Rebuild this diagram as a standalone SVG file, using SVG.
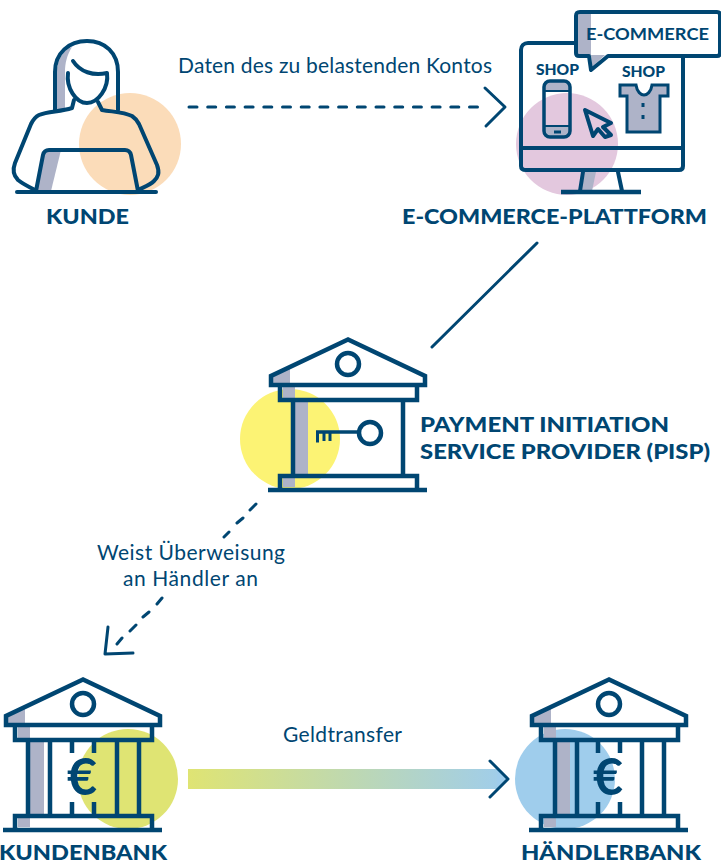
<svg xmlns="http://www.w3.org/2000/svg" width="721" height="868" viewBox="0 0 721 868">
<style>
.s{fill:none;stroke:#004672;stroke-width:4;stroke-linejoin:round;stroke-linecap:round}
.m{fill:none;stroke:#004672;stroke-width:4.500;stroke-linejoin:miter;stroke-linecap:butt}
.g{fill:#aeb3c8;stroke:none}
.w{fill:#fff;stroke:none}
.t{font-family:Lato,"Noto Sans",sans-serif;font-size:21px;fill:#004672}
.b{font-family:Lato,"Noto Sans",sans-serif;font-size:20px;font-weight:900;fill:#004672}
.c{font-family:Lato,"Noto Sans",sans-serif;font-size:15px;font-weight:900;fill:#004672}
.d{fill:none;stroke:#004672;stroke-width:3;stroke-linecap:round;stroke-linejoin:round}
.e{font-family:Lato,"Noto Sans",sans-serif;font-size:52px;font-weight:700;fill:#004672;text-anchor:middle}
</style>
<defs>
<linearGradient id="flow" x1="188" y1="0" x2="506" y2="0" gradientUnits="userSpaceOnUse"><stop offset="0" stop-color="#dfe473"/><stop offset="1" stop-color="#9fcdec"/></linearGradient>
<g id="bankTop">
<path class="g" d="M8 46L25 38V54H8Z"/>
<path class="g" d="M18 57H30V69H18Z"/>
<path class="g" d="M18 148H30V157H18Z"/>
<path class="m" d="M83 9.500L6 46V55H160V46Z"/>
<circle class="m" cx="83" cy="34" r="11"/>
<path class="m" d="M15 55V70H152V55"/>
<path class="m" d="M15 158V146H152V158"/>
<path class="m" d="M3 160H162"/>
</g>
</defs>

<g id="connectors">
<path class="d" stroke-dasharray="8 10.700" d="M189 107H482"/>
<path class="d" d="M485 88L505 107L486 126"/>
<path class="d" d="M537 243L432 347"/>
<path class="d" d="M256 504L250 510M243 518L237 523M229 532L224 537M162 598L157 604M149 612L143 617M136 625L130 631M122 638L117 644"/>
<path class="d" d="M108 627L105 654L133 653"/>
<path d="M188 769H497V789H188Z" fill="url(#flow)"/>
<path d="M489 760L508 779L489 798L497 789V769Z" fill="#9fcdec"/>
<path class="d" d="M490 761L508 779L490 797"/>
</g>

<g id="label-daten"><text class="t" x="178" y="73" textLength="314">Daten des zu belastenden Kontos</text></g>
<g id="label-weist"><text class="t" x="97" y="560" textLength="188">Weist Überweisung</text><text class="t" x="123" y="586" textLength="135">an Händler an</text></g>
<g id="label-geld"><text class="t" x="283" y="742" textLength="119">Geldtransfer</text></g>

<g id="kunde">
<circle cx="130" cy="144" r="51" fill="#fbdcb9"/>
<path class="g" d="M57 110V72C57 60 63 50 72 47C67 55 65 63 65 72V110Z"/>
<path class="g" d="M37 191L44 153L47 150H61L51 191Z"/>
<path class="s" d="M55 110V72C55 53 69 41 87 41C105 41 118 53 118 72V110"/>
<path class="s" d="M68 73C66 88 76 103 87 103C98 103 109 88 107 73C93 76 80 72 73 61"/>
<path class="s" d="M74 100L72 108C60 112 48 111 39 115C35 117 33 120 31 124L15 163C12 171 14 176 18 180C23 184 29 187 35 190"/>
<path class="s" d="M98 102L102 110C114 112 124 112 132 116C135 118 137 120 139 124L157 165C160 173 158 177 154 181C150 185 144 187 138 190"/>
<path class="s" d="M36 191L43 155C44 151 46 150 49 150H125C128 150 130 151 131 155L138 191"/>
<path class="s" d="M17 192H156"/>
<text class="b" x="46" y="224" textLength="83" lengthAdjust="spacingAndGlyphs">KUNDE</text>
</g>

<g id="plattform">
<circle cx="567" cy="144" r="51" fill="#e3c8de"/>
<path class="g" d="M585 172H596L592 191H581Z"/>
<path class="s" d="M576 43H528C524 43 521 46 521 50V166C521 169 523 170 526 170H679C682 170 683 168 683 166V56"/>
<path class="s" d="M521 148H683"/>
<path class="s" d="M583 172L580 191M618 172L622 191"/>
<path class="m" d="M561 192H641"/>
<path class="w" d="M578 13H719V55H608L591 69V55H578Z"/>
<path class="g" d="M578 14H591V55H578Z"/>
<path class="g" d="M591 55H605L592 67Z"/>
<path class="s" d="M580 12H717C719 12 720 13 720 15V53C720 55 719 56 717 56H608L591 70L589 56H579C577 56 576 55 576 53V16C576 13 577 12 580 12Z"/>
<text class="c" x="586" y="40" textLength="123" lengthAdjust="spacingAndGlyphs" style="font-size:17.500px;font-weight:700">E-COMMERCE</text>
<text class="c" x="536" y="75" textLength="43" lengthAdjust="spacingAndGlyphs">SHOP</text>
<text class="c" x="622" y="77" textLength="43" lengthAdjust="spacingAndGlyphs">SHOP</text>
<path class="g" d="M544 90V86C544 83 546 81 549 81H565C568 81 570 83 570 86V90Z"/>
<path class="g" d="M544 126H570V132C570 135 568 137 565 137H549C546 137 544 135 544 132Z"/>
<rect x="544" y="81" width="26" height="56" rx="6" fill="none" stroke="#004672" stroke-width="3.500"/>
<path d="M544 91H570M544 126H570" stroke="#004672" stroke-width="2" fill="none"/>
<path d="M554 132H561" stroke="#004672" stroke-width="3"/>
<path class="s" d="M585 110L611 123L603 127L611 135L605 137L598 129L593 136Z"/>
<path class="g" d="M620 85H636C637 92 641 95 644 95C647 95 651 92 652 85H668V96H660V132H627V96H620Z"/>
<path class="m" style="stroke-width:3" d="M620 85H636C637 92 641 95 644 95C647 95 651 92 652 85H668V96H660V132H627V96H620Z"/>
<path d="M643 103V107M643 115V119" stroke="#004672" stroke-width="3" fill="none"/>
<text class="b" x="402" y="224" textLength="305" lengthAdjust="spacingAndGlyphs">E-COMMERCE-PLATTFORM</text>
</g>

<g id="pisp">
<circle cx="290" cy="439" r="50" fill="#fcf374"/>
<path class="g" d="M295 400H308V476H295Z"/>
<use href="#bankTop" transform="translate(265 330)"/>
<path class="m" d="M293 400V476M403 400V476"/>
<circle class="m" cx="370" cy="433" r="11"/>
<path class="m" d="M359 432H316" style="stroke-width:3.500"/>
<path class="m" style="stroke-width:3" d="M317.500 432V442.500M324 432V441M330 432V441"/>
<text class="b" x="420" y="432" textLength="249" lengthAdjust="spacingAndGlyphs">PAYMENT INITIATION</text>
<text class="b" x="420" y="459" textLength="290" lengthAdjust="spacingAndGlyphs">SERVICE PROVIDER (PISP)</text>
</g>

<g id="kundenbank">
<circle cx="128" cy="779" r="50" fill="#dfe473"/>
<path class="g" d="M30 740H44V816H30Z"/>
<use href="#bankTop" transform="translate(0 670)"/>
<path class="m" d="M28 740V816M50 740V816M117 740V816M139 740V816M72 740V753M94 740V753M72 802V816M94 802V816"/>
<text class="e" x="82" y="795">€</text>
<text class="b" x="-1" y="860" textLength="168" lengthAdjust="spacingAndGlyphs">KUNDENBANK</text>
</g>

<g id="haendlerbank">
<circle cx="565" cy="779" r="50" fill="#9fcdec"/>
<path class="g" d="M557 740H570V816H557Z"/>
<use href="#bankTop" transform="translate(526 670)"/>
<path class="m" d="M555 740V816M577 740V816M642 740V816M664 740V816M598 740V753M620 740V753M598 802V816M620 802V816"/>
<text class="e" x="608" y="795">€</text>
<text class="b" x="521" y="860" textLength="180" lengthAdjust="spacingAndGlyphs">HÄNDLERBANK</text>
</g>
</svg>
